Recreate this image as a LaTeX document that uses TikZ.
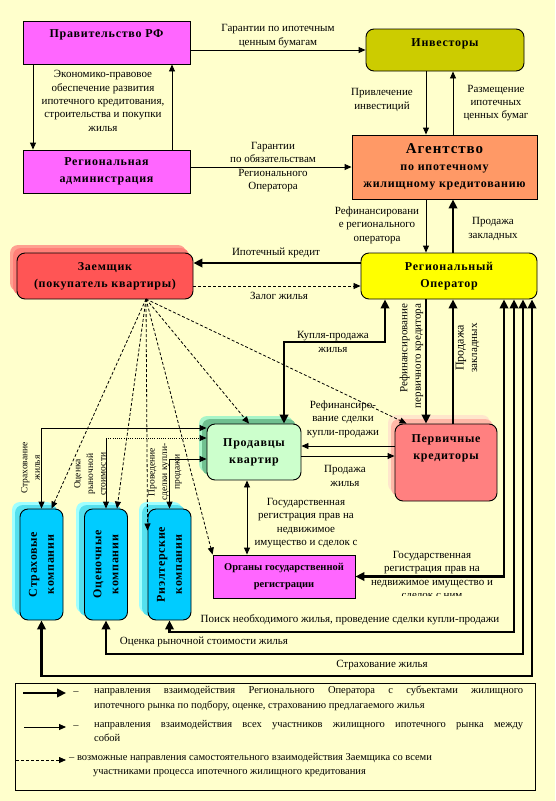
\documentclass[tikz,border=0pt]{standalone}
\usepackage{fontspec}
\setmainfont{Liberation Serif}
\usepackage{xcolor}
\usetikzlibrary{arrows.meta,positioning}

\definecolor{bgcol}{HTML}{FFFFCC}
\definecolor{govcol}{HTML}{FF66FF}
\definecolor{invcol}{HTML}{CCCC00}
\definecolor{agcol}{HTML}{FF9966}
\definecolor{borcol}{HTML}{FF5555}
\definecolor{borsha}{HTML}{FFA090}
\definecolor{borshb}{HTML}{FF7F78}
\definecolor{opcol}{HTML}{FFFF00}
\definecolor{selcol}{HTML}{CCFFCC}
\definecolor{selsha}{HTML}{A8F5C8}
\definecolor{selshb}{HTML}{70C090}
\definecolor{lencol}{HTML}{FF8080}
\definecolor{lensha}{HTML}{FFE6CC}
\definecolor{lenshb}{HTML}{FFB8A8}
\definecolor{cycol}{HTML}{00CCFF}
\definecolor{cysha}{HTML}{A0FFFF}
\definecolor{cyshb}{HTML}{55E0EE}

\newcommand\lblfont{\fontsize{11}{13.4}\selectfont}
\newcommand\smlfont{\fontsize{9.5}{12.6}\selectfont}
\newcommand\ttlfont{\fontsize{12}{17}\selectfont\bfseries\addfontfeatures{LetterSpace=6}}
\newcommand\regfont{\fontsize{10.5}{17}\selectfont\bfseries}
\newcommand\legfont{\fontsize{10.5}{14.5}\selectfont}

\begin{document}
\begin{tikzpicture}[x=1pt,y=-1pt,
  box/.style={draw,line width=0.9pt,align=center,inner sep=1pt,font=\ttlfont},
  rbox/.style={box,rounded corners=8pt},
  ttl/.style={align=center,inner sep=0pt,font=\ttlfont},
  lbl/.style={align=center,inner sep=0pt,font=\lblfont},
  slbl/.style={align=center,inner sep=0pt,font=\smlfont,rotate=90},
  legtxt/.style={inner sep=0pt,font=\legfont},
  arr/.style={line width=0.9pt,-{Triangle[length=7pt,width=6pt]}},
  arrb/.style={line width=0.9pt,{Triangle[length=7pt,width=6pt]}-{Triangle[length=7pt,width=6pt]}},
  big/.style={line width=2.8pt,-{Triangle[length=9pt,width=8.5pt]}},
  bigb/.style={line width=2.8pt,{Triangle[length=9pt,width=8.5pt]}-{Triangle[length=9pt,width=8.5pt]}},
  dsh/.style={line width=0.8pt,dash pattern=on 3pt off 2pt,-{Triangle[length=7pt,width=6pt]}}]
\useasboundingbox (0,0) rectangle (555,801);
\fill[bgcol] (0,0) rectangle (555,801);

% shadows of the rounded boxes
\foreach \xa/\ya/\xb/\yb/\col in {10/245/186/291/borsha, 13/248/189/295/borshb,
  199/416/293/472/selsha, 202/419/296/475/selshb,
  388/415/490/492/lensha, 391/419/493/496/lenshb}
  \fill[\col,rounded corners=8pt] (\xa,\ya) rectangle (\xb,\yb);
\foreach \dx in {0,64,127} {
  \fill[cysha,rounded corners=8pt] (12+\dx,502) rectangle (55+\dx,613);
  \fill[cyshb,rounded corners=8pt] (15+\dx,505) rectangle (58+\dx,616);
}

% participants
\node[box,fill=govcol,minimum width=167,minimum height=43] (gov) at (106.5,42.5) {};
\node[ttl] (govtxt) at (106.5,35) {Правительство РФ};
\node[box,fill=govcol,minimum width=167,minimum height=43] (adm) at (106.5,171.5) {Региональная\\администрация};
\node[rbox,fill=invcol,minimum width=158,minimum height=42] (inv) at (445,50) {};
\node[ttl] (invtxt) at (445,44) {Инвесторы};
\node[box,fill=agcol,minimum width=185,minimum height=64] (ag) at (444.5,167)
  {{\fontsize{15}{18}\selectfont Агентство}\\по ипотечному\\жилищному кредитованию};
\node[rbox,fill=borcol,minimum width=176,minimum height=46] (bor) at (105,276) {Заемщик\\(покупатель квартиры)};
\node[rbox,fill=opcol,minimum width=176,minimum height=46] (op) at (449,276) {Региональный\\Оператор};
\node[rbox,fill=selcol,minimum width=94,minimum height=56] (sel) at (254,452) {Продавцы\\квартир};
\node[rbox,fill=lencol,minimum width=102,minimum height=77] (len) at (446,462.5) {};
\node[ttl] (lentxt) at (446,448) {Первичные\\кредиторы};
\node[box,fill=govcol,minimum width=142,minimum height=43,font=\regfont] (reg) at (284,576.5) {Органы государственной\\регистрации};
\node[rbox,fill=cycol,minimum width=43,minimum height=111] (ins) at (41.5,564.5) {};
\node[ttl,rotate=90] (instxt) at (ins) {Страховые\\компании};
\node[rbox,fill=cycol,minimum width=43,minimum height=111] (val) at (106,564.5) {};
\node[ttl,rotate=90] (valtxt) at (val) {Оценочные\\компании};
\node[rbox,fill=cycol,minimum width=43,minimum height=111] (realt) at (169.5,564.5) {};
\node[ttl,rotate=90] (realttxt) at (realt) {Риэлтерские\\компании};

% positions of the links
\coordinate (xa) at (33,0);
\coordinate (xb) at (172,0);
\coordinate (xc) at (426,0);
\coordinate (xd) at (453,0);
\coordinate (xe) at (385,0);
\coordinate (xg) at (247,0);
\coordinate (x4) at (504,0);
\coordinate (kp) at (284,342);
\coordinate (yc) at (0,263);
\coordinate (yz) at (0,286);
\coordinate (ya) at (0,428);
\coordinate (yb) at (0,438);
\coordinate (yr) at (0,459);
\coordinate (ys) at (0,446);
\coordinate (yt) at (0,456);
\coordinate (c1) at (514,632);
\coordinate (c2) at (523,654);
\coordinate (c3) at (532,676);
\coordinate (fan) at (146,299);

\draw[arr] (gov.south -| xa) -- (adm.north -| xa);
\draw[arr] (adm.north -| xb) -- (gov.south -| xb);
\draw[arr] (gov.east |- inv.west) -- (inv.west);
\draw[arr] (adm.east |- ag.west) -- (ag.west);
\draw[arr] (inv.south -| xc) -- (ag.north -| xc);
\draw[arr] (ag.north -| xd) -- (inv.south -| xd);
\draw[arr] (ag.south -| xc) -- (op.north -| xc);
\draw[big] (op.north -| xd) -- (ag.south -| xd);
\draw[big] (op.west |- yc) -- (bor.east |- yc);
\draw[dsh] (bor.east |- yz) -- (op.west |- yz);
\draw[bigb] (op.south -| xe) |- (kp) -- (sel.north -| kp);
\draw[big] (op.south -| xc) -- (len.north -| xc);
\draw[big] (len.north -| xd) -- (op.south -| xd);
\draw[arr] (len.west |- ys) -- (sel.east |- ys);
\draw[arr] (sel.east |- yt) -- (len.west |- yt);
\draw[arrb] (sel.south -| xg) -- (reg.north -| xg);
\draw[arrb] (ins.north) |- (sel.west |- ya);
\draw[line width=0.9pt,{Triangle[length=7pt,width=6pt]}-] (val.north) -- (val.north |- yb);
\draw[arr,dash pattern=on 1pt off 1.2pt] (val.north |- yb) -- (sel.west |- yb);
\draw[arrb] (realt.north) |- (sel.west |- yr);
\draw[bigb] (op.south -| x4) |- (reg.east);
\draw[bigb] (op.south -| c1) -- (c1) -| (realt.south);
\draw[bigb] (op.south -| c2) -- (c2) -| (val.south);
\draw[bigb] (op.south -| c3) -- (c3) -| (ins.south);
\foreach \n/\dx/\dy in {ins.north/10/0, val.north/11/0, realt.west/0/34,
  reg.north west/0/0, sel.north/-5/0, len.north west/12/0}
  \draw[dsh] (fan) -- ([xshift=\dx pt,yshift=\dy pt]\n);

% labels
\node[lbl] (l1) at (278,36) {Гарантии по ипотечным\\ценным бумагам};
\node[lbl] (l2) at (103,101) {Экономико-правовое\\обеспечение развития\\ипотечного кредитования,\\строительства и покупки\\жилья};
\node[lbl] (l3) at (273,167) {Гарантии\\по обязательствам\\Регионального\\Оператора};
\node[lbl] (l4) at (382,100) {Привлечение\\инвестиций};
\node[lbl] (l5) at (496,103) {Размещение\\ипотечных\\ценных бумаг};
\node[lbl] (l6) at (377,225) {Рефинансировани\\е регионального\\оператора};
\node[lbl] (l7) at (493,229) {Продажа\\закладных};
\node[lbl] (l8) at (276,253) {Ипотечный кредит};
\node[lbl] (l9) at (279,296) {Залог жилья};
\node[lbl] (l10) at (333,342) {Купля-продажа\\жилья};
\node[lbl,rotate=90,align=right] (l11) at (411.5,356) {Рефинансирование\\первичного кредитора};
\node[lbl,rotate=90] (l12) at (467.5,348) {{\fontsize{12}{13}\selectfont Продажа}\\закладных};
\node[lbl] (l13) at (343,419) {Рефинансиро-\\вание сделки\\купли-продажи};
\node[lbl] (l14) at (345,476) {Продажа\\жилья};
\node[lbl] (l15) at (306,523) {Государственная\\регистрация прав на\\недвижимое\\имущество и сделок с};
\node[lbl] (l16) at (432,569.5) {Государственная\\регистрация прав на\\недвижимое имущество и};
\begin{scope}
\clip (380,593) rectangle (490,595);
\node[lbl] (l16b) at (432,597) {сделок с ним};
\end{scope}
\node[slbl] (l17) at (30.5,468) {Страхование\\жилья};
\node[slbl] (l18) at (90,474) {Оценка\\рыночной\\стоимости};
\node[slbl] (l19) at (165,472) {Проведение\\сделки купли-\\продажи};
\node[lbl] (l20) at (350,620) {Поиск необходимого жилья, проведение сделки купли-продажи};
\node[lbl] (l21) at (204,642) {Оценка рыночной стоимости жилья};
\node[lbl] (l22) at (382,665) {Страхование жилья};

% legend
\node[draw,line width=0.9pt,minimum width=520,minimum height=107,inner sep=0pt] (leg) at (275,736.5) {};
\coordinate (k1) at (23,693); \coordinate (k1e) at (66,693);
\coordinate (k2) at (24,727); \coordinate (k2e) at (66,727);
\coordinate (k3) at (16,760); \coordinate (k3e) at (66,760);
\draw[big] (k1) -- (k1e);
\draw[arr] (k2) -- (k2e);
\draw[dsh] (k3) -- (k3e);
\node[legtxt] (d1) at (76,693) {–};
\node[legtxt] (d2) at (76,727) {–};
\node[legtxt,anchor=north west,text width=429,align=justify] (t1) at (94,686)
  {направления взаимодействия Регионального Оператора с субъектами жилищного\linebreak
   ипотечного рынка по подбору, оценке, страхованию предлагаемого жилья};
\node[legtxt,anchor=north west,text width=429,align=justify] (t2) at (94,720)
  {направления взаимодействия всех участников жилищного ипотечного рынка между\linebreak
   собой};
\node[legtxt,anchor=north west,align=left] (t3) at (69,753)
  {– возможные направления самостоятельного взаимодействия Заемщика со всеми\\
   \hspace*{24pt}участниками процесса ипотечного жилищного кредитования};
\end{tikzpicture}
\end{document}
